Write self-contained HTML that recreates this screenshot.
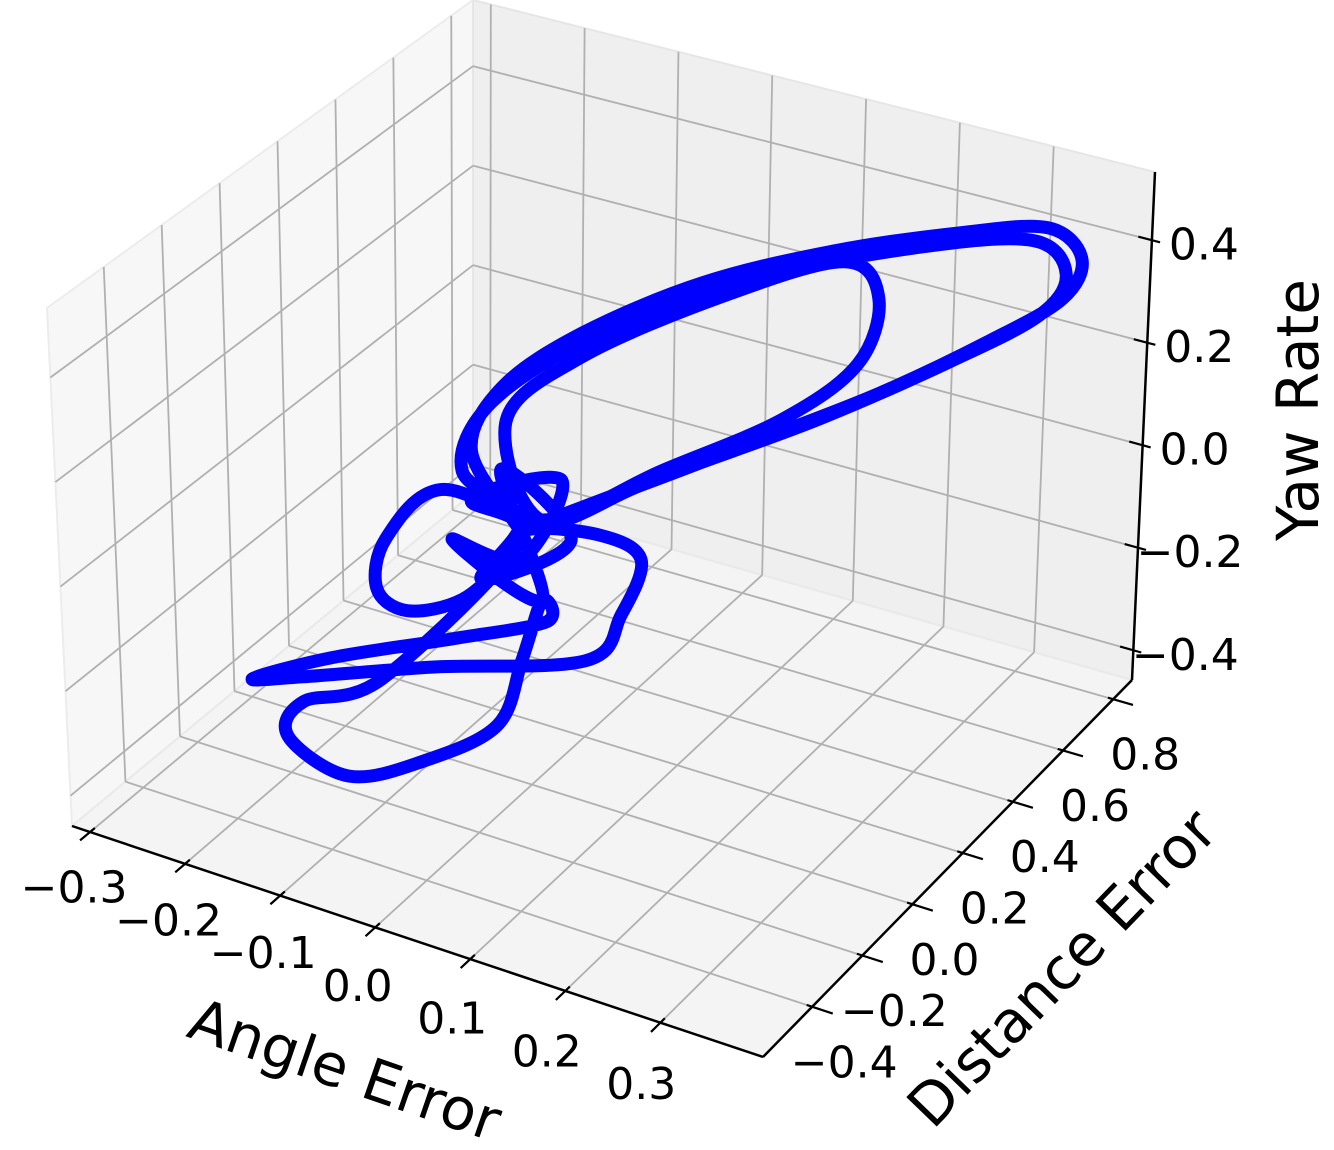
<!DOCTYPE html>
<html>
<head>
<meta charset="utf-8">
<style>
  html,body{margin:0;padding:0;background:#fff;}
  svg{display:block;}
  text{font-family:"DejaVu Sans","Liberation Sans",sans-serif;fill:#000;}
</style>
</head>
<body>
<svg id="chart" width="1334" height="1150" viewBox="0 0 1334 1150" xmlns="http://www.w3.org/2000/svg">
  <g id="panes"></g>
  <g id="grid"></g>
  <g id="axes"></g>
  <g id="series"></g>
  <g id="labels"></g>
  <text x="345" y="1070" font-size="58" text-anchor="middle" dominant-baseline="central" transform="rotate(19 345 1070)">Angle Error</text>
  <text x="1062" y="968" font-size="58" text-anchor="middle" dominant-baseline="central" transform="rotate(-46 1062 968)">Distance Error</text>
  <text x="1298" y="410" font-size="58" text-anchor="middle" dominant-baseline="central" transform="rotate(-90 1298 410)">Yaw Rate</text>
</svg>
<script>
// ---- data (Angle Error, Distance Error, Yaw Rate) ----
const angleErr = [-0.044,-0.120,-0.116,-0.060,0.038,0.147,0.269,0.345,0.368,0.349,0.287,0.199,0.115,0.031,-0.032,
  -0.083,-0.032,0.087,0.200,0.237,0.230,0.165,0.067,-0.018,
  -0.109,-0.153,-0.149,-0.117,-0.073,-0.040,-0.033,
  0.032,0.074,0.067,0.058,
  -0.077,-0.185,-0.224,-0.168,-0.070,0.002,-0.003,
  -0.010,-0.008,-0.059,-0.110,-0.173,-0.171,-0.115,-0.039,
  -0.091,0.004,-0.039,-0.112,-0.017,-0.060,0.014,-0.081,-0.039,
  -0.130,-0.127,-0.039,0.087,0.236,0.335,0.360,0.334,0.259,0.164,0.073,-0.011];
const distErr = [0.10,0.20,0.30,0.40,0.50,0.60,0.65,0.70,0.75,0.75,0.70,0.60,0.45,0.30,0.15,
  0.20,0.30,0.40,0.45,0.45,0.40,0.35,0.25,0.12,
  0.05,0.00,-0.05,-0.05,0.00,0.05,0.10,
  0.15,0.15,0.10,0.00,
  -0.10,-0.20,-0.25,-0.15,-0.05,0.05,0.05,
  0.00,-0.10,-0.20,-0.30,-0.30,-0.25,-0.15,0.10,
  0.10,0.10,0.10,0.10,0.10,0.10,0.10,0.10,0.10,
  0.20,0.30,0.40,0.55,0.62,0.68,0.72,0.72,0.65,0.50,0.30,0.15];
const yawRate = [-0.025,0.034,0.116,0.207,0.311,0.382,0.455,0.477,0.404,0.317,0.229,0.130,0.066,0.002,-0.032,
  0.112,0.219,0.354,0.456,0.402,0.295,0.177,0.072,-0.010,
  0.030,-0.067,-0.139,-0.165,-0.141,-0.068,-0.029,
  -0.027,-0.052,-0.139,-0.186,
  -0.229,-0.265,-0.269,-0.240,-0.193,-0.165,-0.126,
  -0.223,-0.302,-0.355,-0.368,-0.329,-0.283,-0.250,-0.051,
  -0.002,0.088,-0.090,-0.091,-0.156,0.073,-0.023,-0.151,-0.013,
  -0.011,0.081,0.218,0.324,0.425,0.457,0.385,0.293,0.198,0.109,0.054,-0.011];
const xTicks = [-0.3,-0.2,-0.1,0.0,0.1,0.2,0.3];
const yTicks = [-0.4,-0.2,0.0,0.2,0.4,0.6,0.8];
const zTicks = [-0.4,-0.2,0.0,0.2,0.4];
const xTickLabels = ["\u22120.3","\u22120.2","\u22120.1","0.0","0.1","0.2","0.3"];
const yTickLabels = ["\u22120.4","\u22120.2","0.0","0.2","0.4","0.6","0.8"];
const zTickLabels = ["\u22120.4","\u22120.2","0.0","0.2","0.4"];

// ---- axis limits ----
const XMIN=-0.319, XMAX=0.408, YMIN=-0.596, YMAX=0.875, ZMIN=-0.458, ZMAX=0.533;
const C = {
  '000':[72,826], '100':[763,1057], '010':[473,493], '110':[1132,680],
  '001':[47,308], '101':[770,530], '011':[473,0], '111':[1155,172]
};
function lerp(p,q,t){return [p[0]+(q[0]-p[0])*t, p[1]+(q[1]-p[1])*t];}
function proj(a,d,r){
  const u=(a-XMIN)/(XMAX-XMIN), v=(d-YMIN)/(YMAX-YMIN), w=(r-ZMIN)/(ZMAX-ZMIN);
  const b0=lerp(lerp(C['000'],C['100'],u), lerp(C['010'],C['110'],u), v);
  const b1=lerp(lerp(C['001'],C['101'],u), lerp(C['011'],C['111'],u), v);
  return lerp(b0,b1,w);
}
const NS='http://www.w3.org/2000/svg';
function mk(tag,attrs,parent){const e=document.createElementNS(NS,tag);for(const k in attrs)e.setAttribute(k,attrs[k]);parent.appendChild(e);return e;}
function pts(list){return list.map(p=>p[0].toFixed(1)+','+p[1].toFixed(1)).join(' ');}

const panes=document.getElementById('panes');
let el;
el=mk('polygon',{points:pts([C['000'],C['010'],C['011'],C['001']]),fill:'#f7f7f7',stroke:'#ececec','stroke-width':2},panes);


el=mk('polygon',{points:pts([C['010'],C['110'],C['111'],C['011']]),fill:'#efefef',stroke:'#e6e6e6','stroke-width':2},panes);


el=mk('polygon',{points:pts([C['000'],C['100'],C['110'],C['010']]),fill:'#f4f4f4',stroke:'#e9e9e9','stroke-width':2},panes);



const grid=document.getElementById('grid');
function gl(p,q,name){
  const e=mk('line',{x1:p[0],y1:p[1],x2:q[0],y2:q[1],stroke:'#b0b0b0','stroke-width':1.8},grid);
  
  
}
xTicks.forEach(x=>{
  gl(proj(x,YMIN,ZMIN),proj(x,YMAX,ZMIN),'x-gridline-floor');
  gl(proj(x,YMAX,ZMIN),proj(x,YMAX,ZMAX),'x-gridline-back');
});
yTicks.forEach(y=>{
  gl(proj(XMIN,y,ZMIN),proj(XMAX,y,ZMIN),'y-gridline-floor');
  gl(proj(XMIN,y,ZMIN),proj(XMIN,y,ZMAX),'y-gridline-left');
});
zTicks.forEach(z=>{
  gl(proj(XMIN,YMIN,z),proj(XMIN,YMAX,z),'z-gridline-left');
  gl(proj(XMIN,YMAX,z),proj(XMAX,YMAX,z),'z-gridline-back');
});

const axes=document.getElementById('axes');
function al(p,q,name,w){
  const e=mk('line',{x1:p[0],y1:p[1],x2:q[0],y2:q[1],stroke:'#000','stroke-width':w},axes);
  
  
}
al(C['000'],C['100'],'x-axis-line',2.5);
al(C['100'],C['110'],'y-axis-line',2.5);
al(C['110'],C['111'],'z-axis-line',2.5);
const Xr=XMAX-XMIN, Yr=YMAX-YMIN;
xTicks.forEach(x=>al(proj(x,YMIN-0.025*Yr,ZMIN),proj(x,YMIN+0.012*Yr,ZMIN),'x-tick',2.2));
yTicks.forEach(y=>al(proj(XMAX-0.008*Xr,y,ZMIN),proj(XMAX+0.03*Xr,y,ZMIN),'y-tick',2.2));
zTicks.forEach(z=>al(proj(XMAX-0.02*Xr,YMAX,z),proj(XMAX+0.012*Xr,YMAX,z),'z-tick',2.2));

const labels=document.getElementById('labels');
function tl(p,txt,name){
  const e=mk('text',{x:p[0].toFixed(1),y:p[1].toFixed(1),'font-size':44,'text-anchor':'middle','dominant-baseline':'central'},labels);
  e.textContent=txt;
  
  
}
xTicks.forEach((x,i)=>{const p=proj(x,YMIN,ZMIN);tl([p[0]-16-3*i/6,p[1]+56+6*i/6],xTickLabels[i],'x-tick-label');});
yTicks.forEach((y,i)=>{const p=proj(XMAX,y,ZMIN);tl([p[0]+32,p[1]+56],yTickLabels[i],'y-tick-label');});
zTicks.forEach((z,i)=>{const p=proj(XMAX,YMAX,z);tl([p[0]+52,p[1]+5],zTickLabels[i],'z-tick-label');});

// ---- trajectory ----
const series=document.getElementById('series');
const P=angleErr.map((a,i)=>proj(a,distErr[i],yawRate[i]));
let d='M'+P[0][0].toFixed(1)+','+P[0][1].toFixed(1);
for(let i=0;i<P.length-1;i++){
  const p0=P[Math.max(i-1,0)],p1=P[i],p2=P[i+1],p3=P[Math.min(i+2,P.length-1)];
  const c1=[p1[0]+(p2[0]-p0[0])/6,p1[1]+(p2[1]-p0[1])/6];
  const c2=[p2[0]-(p3[0]-p1[0])/6,p2[1]-(p3[1]-p1[1])/6];
  d+=' C'+c1[0].toFixed(1)+','+c1[1].toFixed(1)+' '+c2[0].toFixed(1)+','+c2[1].toFixed(1)+' '+p2[0].toFixed(1)+','+p2[1].toFixed(1);
}
const path=mk('path',{d:d,fill:'none',stroke:'#0000ff','stroke-width':13,'stroke-linejoin':'round','stroke-linecap':'round'},series);


</script>
</body>
</html>
